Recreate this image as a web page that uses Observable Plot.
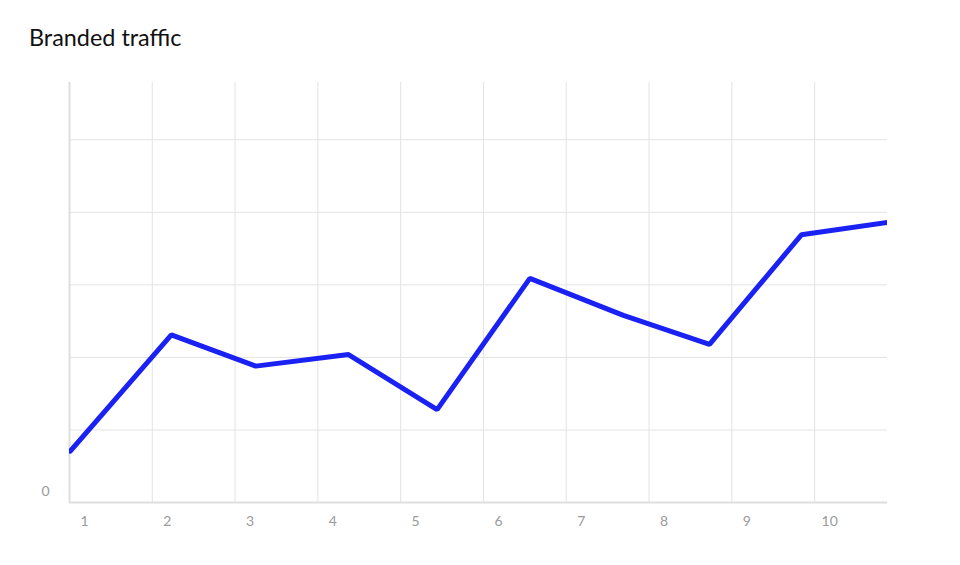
<!DOCTYPE html>
<html><head><meta charset="utf-8">
<script src="https://cdn.jsdelivr.net/npm/d3@7"></script>
<script src="https://cdn.jsdelivr.net/npm/@observablehq/plot@0.6"></script>
<style>
html,body{margin:0;padding:0;background:#fff;}
body{width:960px;height:565px;position:relative;overflow:hidden;font-family:Lato,"Open Sans",sans-serif;}
#title{position:absolute;left:29px;top:23px;font-size:23.4px;line-height:1.2;color:#111;}
#chart{position:absolute;left:0;top:65px;}
</style></head><body>
<div id="title"></div>
<div id="chart"></div>
<script>
const title = "Branded traffic";
// x positions of the data points (in x-axis units, axis ticks 1..10)
const xValues = [1.01, 2.23, 3.25, 4.37, 5.44, 6.56, 7.69, 8.73, 9.84, 10.88];
// branded traffic values (grid units)
const traffic = [0.71, 2.31, 1.88, 2.04, 1.28, 3.09, 2.58, 2.18, 3.69, 3.86];
const xTicks = [1, 2, 3, 4, 5, 6, 7, 8, 9, 10];
const yGridValues = [1, 2, 3, 4, 5];
const yTickLabels = [0];
const xDomain = [1, 10.88];
const yDomain = [0, 5.79];

document.getElementById("title").textContent = title;
const data = xValues.map((x, i) => ({x, y: traffic[i]}));

const chart = Plot.plot({
  width: 960,
  height: 500,
  marginTop: 17,
  marginBottom: 63,
  marginLeft: 69,
  marginRight: 73,
  style: {fontFamily: "Lato, 'Open Sans', sans-serif", background: "#fff"},
  x: {domain: xDomain},
  y: {domain: yDomain},
  marks: [
    Plot.gridX(xTicks, {stroke: "#e3e3e3", strokeOpacity: 1, strokeWidth: 1}),
    Plot.gridY(yGridValues, {stroke: "#e3e3e3", strokeOpacity: 1, strokeWidth: 1}),
    Plot.ruleY([yDomain[0]], {stroke: "#dedede", strokeWidth: 2}),
    Plot.ruleX([xDomain[0]], {stroke: "#dedede", strokeWidth: 2}),
    Plot.line(data, {x: "x", y: "y", stroke: "#1a21f3", strokeWidth: 5, clip: true, strokeLinejoin: "miter"}),
    Plot.axisX(xTicks, {tickSize: 0, tickPadding: 14, dx: 15, fill: "#9a9a9a", fontSize: 14, tickFormat: d => String(d), label: null}),
    Plot.axisY(yTickLabels, {tickSize: 0, tickPadding: 20, dy: -11, fill: "#9a9a9a", fontSize: 14, tickFormat: d => String(d), label: null})
  ]
});
document.getElementById("chart").appendChild(chart);
</script>
</body></html>
